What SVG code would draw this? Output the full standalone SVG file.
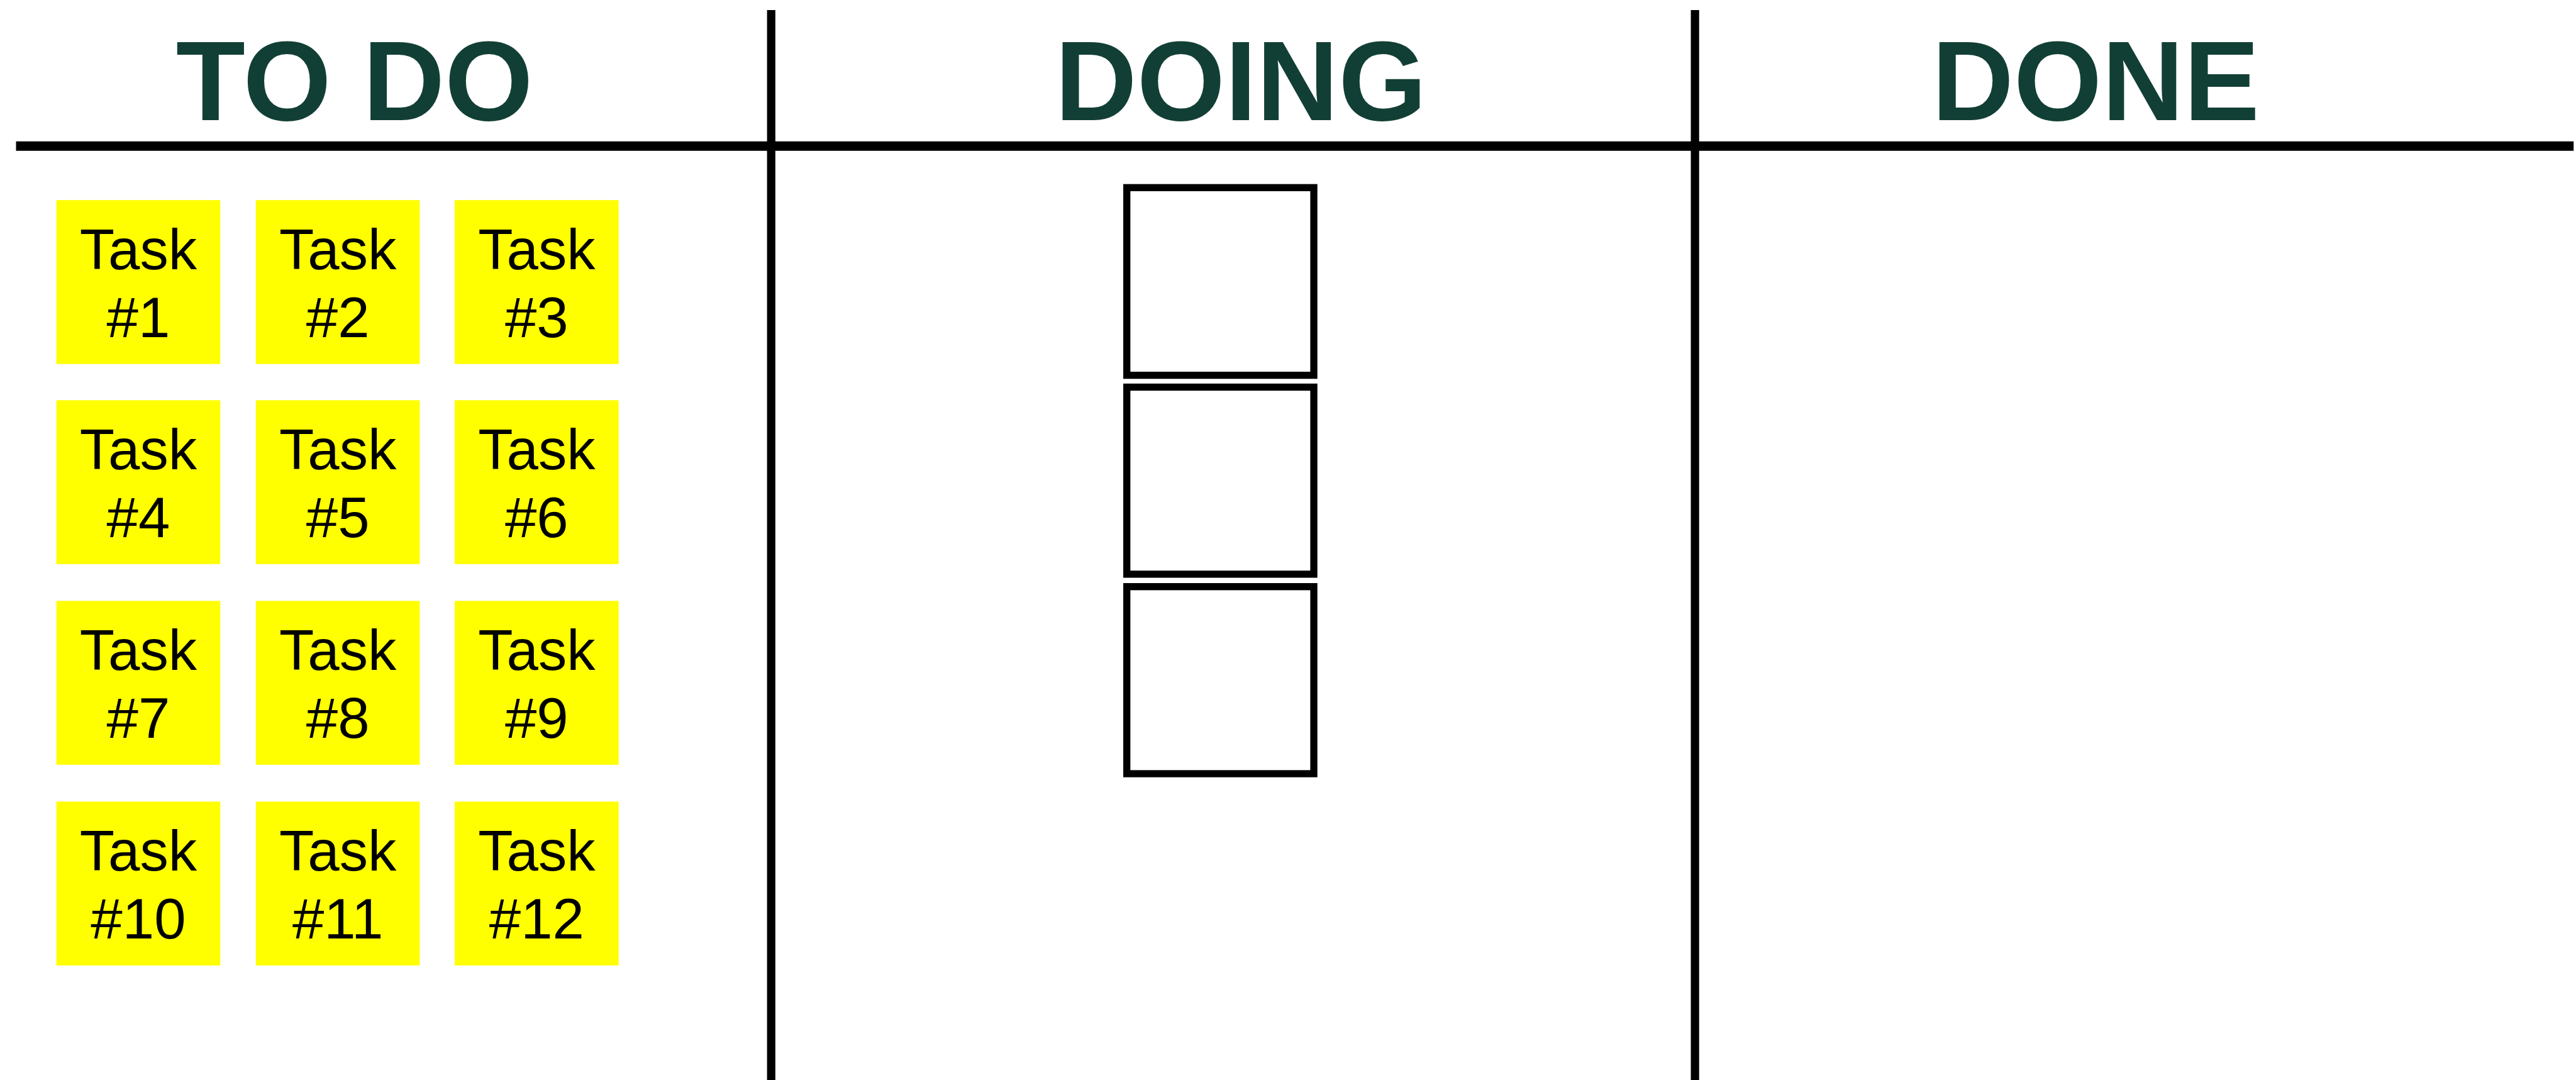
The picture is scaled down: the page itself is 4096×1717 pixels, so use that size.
<svg xmlns="http://www.w3.org/2000/svg" width="4096" height="1717" viewBox="0 0 4096 1717">
<style>
.hd{font-family:"Liberation Sans",Arial,sans-serif;font-weight:bold;font-size:191px;fill:#123F35;text-anchor:middle}
.card{fill:#FFFF00}
.tx{font-family:"Liberation Sans",Arial,sans-serif;font-size:96px;fill:#000;text-anchor:middle}
.slot{fill:#fff;stroke:#000;stroke-width:12}
.ln{stroke:#000}
</style>
<rect width="4096" height="1717" fill="#fff"/>
<g transform="scale(0.944)">
<g id="board-lines">
<line class="ln" x1="27" y1="246" x2="4335" y2="246" stroke-width="16"/>
<line class="ln" x1="1299" y1="17" x2="1299" y2="1819" stroke-width="14"/>
<line class="ln" x1="2855" y1="17" x2="2855" y2="1819" stroke-width="14"/>
</g>
<g id="headers">
<text class="hd" x="597" y="202">TO DO</text>
<text class="hd" x="2090" y="202">DOING</text>
<text class="hd" x="3530" y="202">DONE</text>
</g>
<g id="task1"><rect class="card" x="95" y="337" width="276" height="276"/><text class="tx" x="233" y="453">Task</text><text class="tx" x="233" y="568">#1</text></g>
<g id="task2"><rect class="card" x="431" y="337" width="276" height="276"/><text class="tx" x="569" y="453">Task</text><text class="tx" x="569" y="568">#2</text></g>
<g id="task3"><rect class="card" x="766" y="337" width="276" height="276"/><text class="tx" x="904" y="453">Task</text><text class="tx" x="904" y="568">#3</text></g>
<g id="task4"><rect class="card" x="95" y="674" width="276" height="276"/><text class="tx" x="233" y="790">Task</text><text class="tx" x="233" y="905">#4</text></g>
<g id="task5"><rect class="card" x="431" y="674" width="276" height="276"/><text class="tx" x="569" y="790">Task</text><text class="tx" x="569" y="905">#5</text></g>
<g id="task6"><rect class="card" x="766" y="674" width="276" height="276"/><text class="tx" x="904" y="790">Task</text><text class="tx" x="904" y="905">#6</text></g>
<g id="task7"><rect class="card" x="95" y="1012" width="276" height="276"/><text class="tx" x="233" y="1128">Task</text><text class="tx" x="233" y="1243">#7</text></g>
<g id="task8"><rect class="card" x="431" y="1012" width="276" height="276"/><text class="tx" x="569" y="1128">Task</text><text class="tx" x="569" y="1243">#8</text></g>
<g id="task9"><rect class="card" x="766" y="1012" width="276" height="276"/><text class="tx" x="904" y="1128">Task</text><text class="tx" x="904" y="1243">#9</text></g>
<g id="task10"><rect class="card" x="95" y="1350" width="276" height="276"/><text class="tx" x="233" y="1466">Task</text><text class="tx" x="233" y="1581">#10</text></g>
<g id="task11"><rect class="card" x="431" y="1350" width="276" height="276"/><text class="tx" x="569" y="1466">Task</text><text class="tx" x="569" y="1581">#11</text></g>
<g id="task12"><rect class="card" x="766" y="1350" width="276" height="276"/><text class="tx" x="904" y="1466">Task</text><text class="tx" x="904" y="1581">#12</text></g>
<g id="slot1"><rect class="slot" x="1898" y="316" width="315" height="316"/></g>
<g id="slot2"><rect class="slot" x="1898" y="652" width="315" height="315"/></g>
<g id="slot3"><rect class="slot" x="1898" y="988" width="315" height="315"/></g>
</g>
</svg>
